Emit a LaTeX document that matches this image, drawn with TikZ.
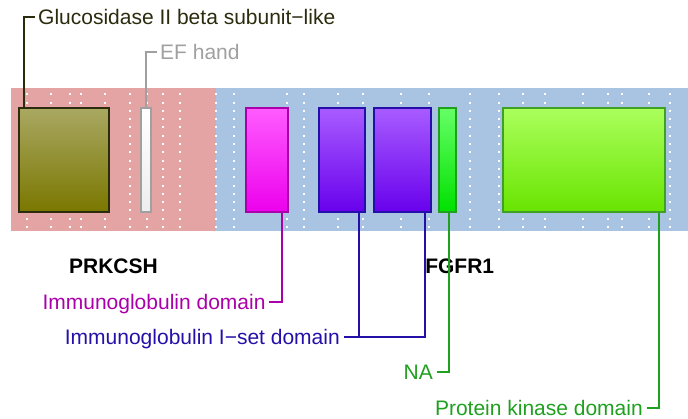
\documentclass[tikz,border=0pt]{standalone}
\usepackage{fontspec}
\setmainfont{Liberation Sans}
\usepackage{tikz}

\definecolor{pinkbg}{HTML}{E5A4A4}
\definecolor{bluebg}{HTML}{A9C4E3}
\definecolor{glucol}{HTML}{2B2B0E}
\definecolor{efcol}{HTML}{A0A0A0}
\definecolor{igcol}{HTML}{AA00AA}
\definecolor{isetcol}{HTML}{2410A8}
\definecolor{nacol}{HTML}{1FA01F}
\definecolor{olivetop}{HTML}{A9A862}
\definecolor{olivebot}{HTML}{7A7700}
\definecolor{magtop}{HTML}{FF5CFF}
\definecolor{magbot}{HTML}{EC00EC}
\definecolor{purtop}{HTML}{A85CFF}
\definecolor{purbot}{HTML}{6800EC}
\definecolor{natop}{HTML}{66FF66}
\definecolor{nabot}{HTML}{00E000}
\definecolor{pktop}{HTML}{ABFF5C}
\definecolor{pkbot}{HTML}{68E400}
\definecolor{pkline}{HTML}{3FA024}

\begin{document}
\begin{tikzpicture}[
      x=1pt, y=-1pt,
      font=\fontsize{21}{25}\selectfont,
      dom/.style={draw, line width=2pt, anchor=north west, minimum height=104.5pt, inner sep=0pt},
      lbl/.style={inner xsep=3.5pt, inner ysep=0pt, text height=15pt, text depth=0pt},
      gene/.style={font=\fontsize{21}{25}\selectfont\bfseries, anchor=base, inner sep=0pt},
      conn/.style={line width=2pt},
      dots/.style={white, line width=2pt, dash pattern=on 2pt off 6.3pt}
    ]
    \useasboundingbox (0,0) rectangle (688,419);
    % backgrounds of the two genes
    \fill[pinkbg] (11,88) rectangle (216,230.7);
    \fill[bluebg] (216,88) rectangle (688,230.7);
    \foreach \x in {27.3,50.7,70,81,105,130,147.3,163.3,180,216,234,287.3,304,338,
                    363,401,429.3,470,499,523,545,583.3,607.7,621.7,649.3,670}
      \draw[dots] (\x,93.3) -- (\x,230);
    % domains
    \node (gluc) [dom, minimum width=89.5pt, color=glucol,
      top color=olivetop, bottom color=olivebot] at (18,107) {};
    \node (efh) [dom, minimum width=10pt, color=efcol,
      top color=white, bottom color=black!7] at (140,107) {};
    \node (ig) [dom, minimum width=42.5pt, color=igcol,
      top color=magtop, bottom color=magbot] at (244.7,107) {};
    \node (iset1) [dom, minimum width=45.5pt, color=isetcol,
      top color=purtop, bottom color=purbot] at (318.3,107) {};
    \node (iset2) [dom, minimum width=56.5pt, color=isetcol,
      top color=purtop, bottom color=purbot] at (373.3,107) {};
    \node (na) [dom, minimum width=17pt, color=nacol,
      top color=natop, bottom color=nabot] at (437.7,107) {};
    \node (pk) [dom, minimum width=161.5pt, color=pkline,
      top color=pktop, bottom color=pkbot] at (502,107) {};
    % gene names
    \node (prkcsh) [gene] at (113.5,274) {PRKCSH};
    \node (fgfr1) [gene] at (459.7,274) {FGFR1};
    % labels
    \node (glucLbl) [lbl, anchor=base west, text=glucol] at (34.5,25) {Glucosidase II beta subunit−like};
    \node (efLbl) [lbl, anchor=base west, text=efcol] at (156.5,60) {EF hand};
    \node (igLbl) [lbl, anchor=base east, text=igcol] at (269.2,309.3) {Immunoglobulin domain};
    \node (isetLbl) [lbl, anchor=base east, text=isetcol] at (343.5,345) {Immunoglobulin I−set domain};
    \node (naLbl) [lbl, anchor=base east, text=nacol] at (436.5,379.3) {NA};
    \node (pkLbl) [lbl, anchor=base east, text=nacol] at (646.5,415) {Protein kinase domain};
    % connectors
    \draw[conn, glucol] ([xshift=6pt]gluc.north west) |- (glucLbl.west);
    \draw[conn, efcol] (efh.north) |- (efLbl.west);
    \draw[conn, igcol] ([xshift=-7.5pt]ig.south east) |- (igLbl.east);
    \draw[conn, isetcol] ([xshift=-7pt]iset1.south east) |- (isetLbl.east);
    \draw[conn, isetcol] ([xshift=-6.7pt]iset2.south east) |- (isetLbl.east);
    \draw[conn, nacol] ([xshift=-7.3pt]na.south east) |- (naLbl.east);
    \draw[conn, nacol] ([xshift=-6.7pt]pk.south east) |- (pkLbl.east);
  \end{tikzpicture}
\end{document}
